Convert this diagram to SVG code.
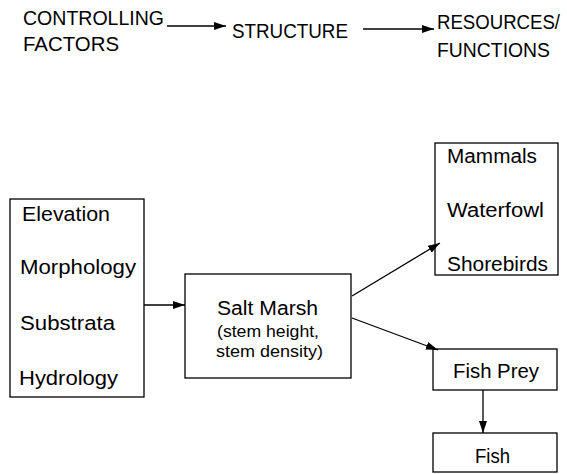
<svg xmlns="http://www.w3.org/2000/svg" width="567" height="474" viewBox="0 0 567 474">
<defs>
<marker id="ah" viewBox="0 0 12 8" refX="12" refY="4" markerWidth="12" markerHeight="8" markerUnits="userSpaceOnUse" orient="auto">
<path d="M0,0 L12,4 L0,8 Z" fill="#000"/>
</marker>
</defs>
<style>
text{font-family:"Liberation Sans",Arial,sans-serif;fill:#000}
.h{font-size:19.5px}
.n{font-size:19.5px}
.s{font-size:16px}
.box{fill:#fff;stroke:#000;stroke-width:1.3}
.c{fill:none;stroke:#000;stroke-width:1.3}
</style>
<rect width="567" height="474" fill="#fff"/>
<g id="header">
<text class="h" x="23" y="25" textLength="141" lengthAdjust="spacingAndGlyphs">CONTROLLING</text>
<text class="h" x="23" y="51" textLength="96" lengthAdjust="spacingAndGlyphs">FACTORS</text>
<text class="h" x="232" y="38" textLength="116" lengthAdjust="spacingAndGlyphs">STRUCTURE</text>
<text class="h" x="437" y="29" textLength="123" lengthAdjust="spacingAndGlyphs">RESOURCES/</text>
<text class="h" x="437" y="57" textLength="113" lengthAdjust="spacingAndGlyphs">FUNCTIONS</text>
</g>
<g id="factors">
<rect class="box" x="10" y="199" width="134" height="198"/>
<text class="n" x="22" y="221" textLength="88" lengthAdjust="spacingAndGlyphs">Elevation</text>
<text class="n" x="20" y="274" textLength="116" lengthAdjust="spacingAndGlyphs">Morphology</text>
<text class="n" x="20" y="330" textLength="95" lengthAdjust="spacingAndGlyphs">Substrata</text>
<text class="n" x="19" y="385" textLength="99" lengthAdjust="spacingAndGlyphs">Hydrology</text>
</g>
<g id="saltmarsh">
<rect class="box" x="185" y="274" width="166" height="104"/>
<text class="n" x="217" y="315" textLength="101" lengthAdjust="spacingAndGlyphs">Salt Marsh</text>
<text class="s" x="217" y="337" textLength="102" lengthAdjust="spacingAndGlyphs">(stem height,</text>
<text class="s" x="216" y="357" textLength="107" lengthAdjust="spacingAndGlyphs">stem density)</text>
</g>
<g id="birds">
<rect class="box" x="435" y="143" width="123" height="132"/>
<text class="n" x="447" y="163" textLength="90" lengthAdjust="spacingAndGlyphs">Mammals</text>
<text class="n" x="447" y="217" textLength="97" lengthAdjust="spacingAndGlyphs">Waterfowl</text>
<text class="n" x="447" y="271" textLength="101" lengthAdjust="spacingAndGlyphs">Shorebirds</text>
</g>
<g id="fishprey">
<rect class="box" x="433" y="349" width="124" height="41"/>
<text class="n" x="453" y="378" textLength="86" lengthAdjust="spacingAndGlyphs">Fish Prey</text>
</g>
<g id="fish">
<rect class="box" x="433" y="433" width="124" height="39"/>
<text class="n" x="475" y="463" textLength="35" lengthAdjust="spacingAndGlyphs">Fish</text>
</g>
<g id="connectors">
<line class="c" x1="167" y1="26" x2="226" y2="26" marker-end="url(#ah)"/>
<line class="c" x1="363" y1="29" x2="434" y2="29" marker-end="url(#ah)"/>
<line class="c" x1="144" y1="305" x2="185" y2="305" marker-end="url(#ah)"/>
<line class="c" x1="352" y1="296" x2="440" y2="243" marker-end="url(#ah)"/>
<line class="c" x1="352" y1="318" x2="438" y2="350" marker-end="url(#ah)"/>
<line class="c" x1="483" y1="390" x2="483" y2="433" marker-end="url(#ah)"/>
</g>
</svg>
